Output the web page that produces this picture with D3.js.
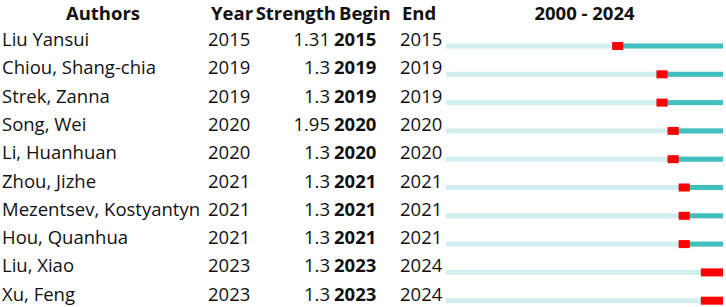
<!DOCTYPE html>
<html>
<head>
<meta charset="utf-8">
<script src="https://cdn.jsdelivr.net/npm/d3@7"></script>
<style>
  body { margin: 0; background: #fff; }
  svg { display: block; font-family: "Open Sans", "Noto Sans", sans-serif; }
</style>
</head>
<body>
<svg id="chart"></svg>
<script>
// burst data
const authors = ["Liu Yansui", "Chiou, Shang-chia", "Strek, Zanna", "Song, Wei", "Li, Huanhuan",
  "Zhou, Jizhe", "Mezentsev, Kostyantyn", "Hou, Quanhua", "Liu, Xiao", "Xu, Feng"];
const years = [2015, 2019, 2019, 2020, 2020, 2021, 2021, 2021, 2023, 2023];
const strengths = [1.31, 1.3, 1.3, 1.95, 1.3, 1.3, 1.3, 1.3, 1.3, 1.3];
const begins = [2015, 2019, 2019, 2020, 2020, 2021, 2021, 2021, 2023, 2023];
const ends = [2015, 2019, 2019, 2020, 2020, 2021, 2021, 2021, 2024, 2024];
const span = [2000, 2024];

const w = 726, h = 307;
const svg = d3.select('#chart').attr('width', w).attr('height', h);

const rows = authors.map((a, i) => ({author: a, year: years[i], strength: strengths[i], begin: begins[i], end: ends[i]}));

// row baselines
const y = d3.scaleLinear().domain([0, rows.length - 1]).range([46, 300.7]);
// timeline
const x = d3.scaleLinear().domain([span[0], span[1] + 1]).range([446, 723]);

const fs = 18.5;
const headY = 20;

// header
const head = svg.append('g').attr('font-weight', 'bold').attr('font-size', fs).attr('fill', '#111');
head.append('text').attr('x', 103).attr('y', headY).attr('text-anchor', 'middle').text('Authors');
head.append('text').attr('x', 211).attr('y', headY).text('Year');
head.append('text').attr('x', 336).attr('y', headY).attr('text-anchor', 'end').text('Strength');
head.append('text').attr('x', 339).attr('y', headY).text('Begin');
head.append('text').attr('x', 402).attr('y', headY).text('End');
head.append('text').attr('x', (x.range()[0] + x.range()[1]) / 2).attr('y', headY).attr('text-anchor', 'middle')
  .text(span[0] + ' - ' + span[1]);

const row = svg.selectAll('.row').data(rows).join('g').attr('class', 'row')
  .attr('font-size', fs).attr('fill', '#111');

row.append('text').attr('x', 2).attr('y', (d, i) => y(i)).text(d => d.author);
row.append('text').attr('x', 208).attr('y', (d, i) => y(i)).text(d => d.year);
row.append('text').attr('x', 330).attr('y', (d, i) => y(i)).attr('text-anchor', 'end').text(d => String(d.strength));
row.append('text').attr('x', 334).attr('y', (d, i) => y(i)).attr('font-weight', 'bold').text(d => d.begin);
row.append('text').attr('x', 400).attr('y', (d, i) => y(i)).text(d => d.end);

// bars: light before first year, dark after, red for burst
const barH = 5, redH = 8;
row.append('rect')
  .attr('x', x(span[0])).attr('width', x(span[1] + 1) - x(span[0]))
  .attr('y', (d, i) => y(i) - barH / 2).attr('height', barH)
  .attr('fill', '#d2eeee');
row.append('rect')
  .attr('x', d => x(d.year)).attr('width', d => x(span[1] + 1) - x(d.year))
  .attr('y', (d, i) => y(i) - barH / 2).attr('height', barH)
  .attr('fill', '#40bfbf');
row.append('rect')
  .attr('x', d => x(d.begin)).attr('width', d => x(d.end + 1) - x(d.begin))
  .attr('y', (d, i) => y(i) - redH / 2).attr('height', redH)
  .attr('fill', '#ff0000');
</script>
</body>
</html>
